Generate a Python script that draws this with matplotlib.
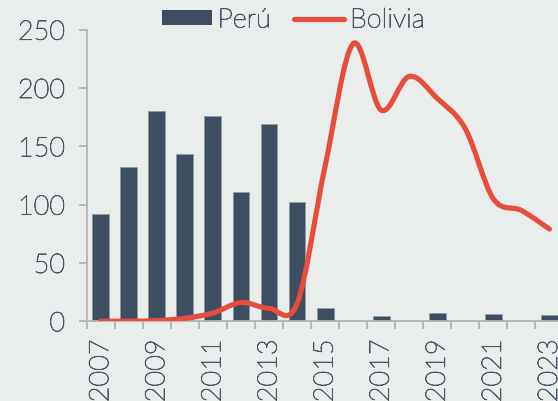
import matplotlib
matplotlib.use("Agg")
import matplotlib.pyplot as plt
from matplotlib.path import Path
from matplotlib.patches import PathPatch, Patch
from matplotlib.lines import Line2D
import matplotlib.patheffects as pe
import numpy as np

years = [2007, 2008, 2009, 2010, 2011, 2012, 2013, 2014, 2015,
         2016, 2017, 2018, 2019, 2020, 2021, 2022, 2023]
peru = [92, 132, 180, 143, 176, 111, 169, 102, 11,
        0, 4.5, 0, 7, 0, 6, 0, 5.3]
bolivia = [0, 0, 0.5, 2.5, 7, 16, 11, 15, 133,
           238, 181, 210, 191, 165, 105, 95, 79]
yticks = [0, 50, 100, 150, 200, 250]
xlabels = [str(y) for y in years[::2]]

BG = "#e9edec"
TXT = "#46576a"
BAR = "#3c4e5f"
LINE = "#e84c3d"
AX = "#b3b3b3"

plt.rcParams['font.family'] = ['Lato', 'DejaVu Sans']
FS = 19.5
FW = "light"
EFF = [pe.withStroke(linewidth=0.55, foreground=TXT)]

fig = plt.figure(figsize=(5.58, 4.02), dpi=100, facecolor=BG)
ax = fig.add_axes([86.7/558, (402-322.2)/402, (563.5-86.7)/558, (322.2-30.7)/402])
ax.set_facecolor(BG)

x = np.arange(len(years))
ax.bar(x, peru, width=0.6, color=BAR, edgecolor="#8e9aa5", linewidth=0.5, zorder=2)

# smoothed line (Catmull-Rom as cubic Bezier path segments)
pts = np.column_stack([x, bolivia]).astype(float)
verts = [tuple(pts[0])]
codes = [Path.MOVETO]
n = len(pts)
for i in range(n - 1):
    p0 = pts[max(i - 1, 0)]
    p1 = pts[i]
    p2 = pts[i + 1]
    p3 = pts[min(i + 2, n - 1)]
    c1 = p1 + (p2 - p0) / 6.0
    c2 = p2 - (p3 - p1) / 6.0
    verts += [tuple(c1), tuple(c2), tuple(p2)]
    codes += [Path.CURVE4] * 3
patch = PathPatch(Path(verts, codes), facecolor="none", edgecolor=LINE,
                  linewidth=3.7, capstyle="round", joinstyle="round", zorder=3)
ax.add_patch(patch)

ax.set_xlim(-0.5, len(years) - 0.5)
ax.set_ylim(0, 250)

for s in ["top", "right"]:
    ax.spines[s].set_visible(False)
for s in ["left", "bottom"]:
    ax.spines[s].set_color(AX)
    ax.spines[s].set_linewidth(1.3)

ax.set_yticks(yticks)
ax.set_yticklabels([str(v) for v in yticks])
ax.tick_params(axis="y", length=5.5, width=1.3, color=AX, labelcolor=TXT,
               labelsize=FS, pad=10)

ax.set_xticks(x[::2])
ax.set_xticklabels(xlabels, rotation=90)
ax.tick_params(axis="x", which="major", length=0, labelcolor=TXT,
               labelsize=FS, pad=13)
ax.set_xticks(np.arange(-0.5, len(years) - 0.4, 1.0), minor=True)
ax.tick_params(axis="x", which="minor", length=5.5, width=1.3, color=AX)
for lab in ax.get_xticklabels() + ax.get_yticklabels():
    lab.set_fontweight(FW)
    lab.set_path_effects(EFF)

handles = [Patch(facecolor=BAR, edgecolor="none"),
           Line2D([0], [0], color=LINE, linewidth=3.7, solid_capstyle="round")]
leg = fig.legend(handles, ["Perú", "Bolivia"], loc="center",
                 bbox_to_anchor=(293/558, 1 - 21/402), ncol=2, frameon=False,
                 fontsize=FS, handlelength=1.85, handleheight=0.48,
                 handletextpad=0.22, columnspacing=0.85, borderpad=0,
                 borderaxespad=0)
for t in leg.get_texts():
    t.set_color(TXT)
    t.set_fontweight(FW)
    t.set_path_effects(EFF)

fig.savefig("out.png", dpi=100, facecolor=BG)
